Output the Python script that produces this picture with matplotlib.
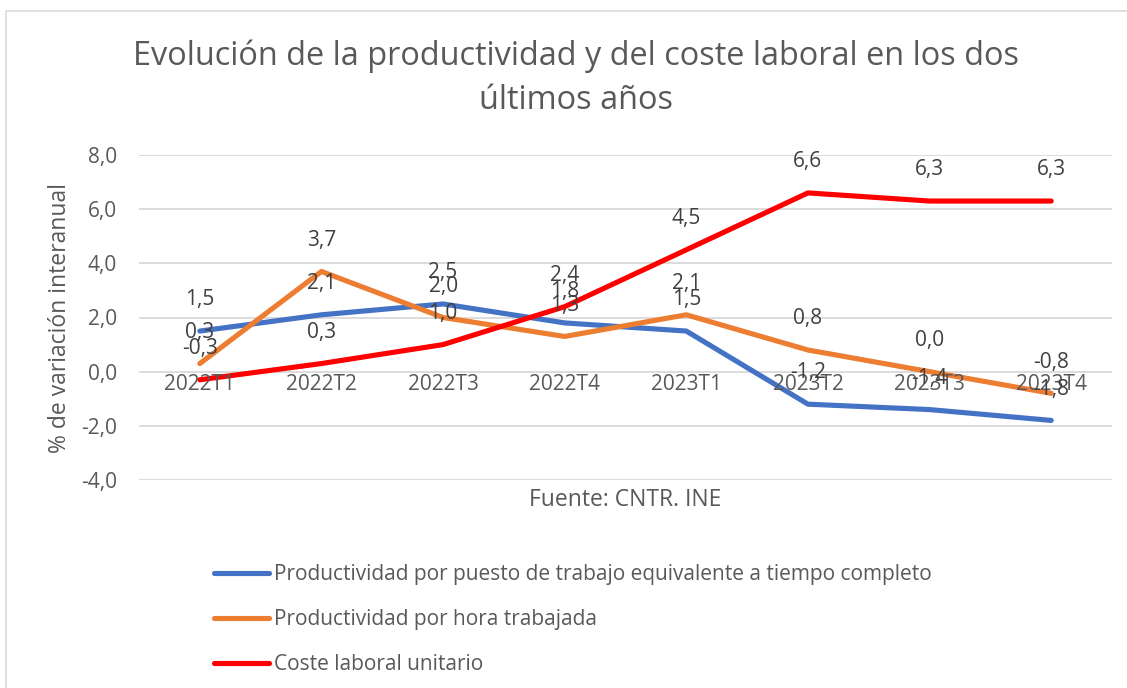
import matplotlib
matplotlib.use("Agg")
import matplotlib.pyplot as plt
from matplotlib.lines import Line2D
from matplotlib.patches import Rectangle

# ---------- Data ----------
categories = ["2022T1", "2022T2", "2022T3", "2022T4",
              "2023T1", "2023T2", "2023T3", "2023T4"]
prod_puesto = [1.5, 2.1, 2.5, 1.8, 1.5, -1.2, -1.4, -1.8]
prod_hora = [0.3, 3.7, 2.0, 1.3, 2.1, 0.8, 0.0, -0.8]
coste_laboral = [-0.3, 0.3, 1.0, 2.4, 4.5, 6.6, 6.3, 6.3]

series_names = ["Productividad por puesto de trabajo equivalente a tiempo completo",
                "Productividad por hora trabajada",
                "Coste laboral unitario"]
series_colors = ["#4472C4", "#ED7D31", "#FF0000"]
y_ticks = [-4, -2, 0, 2, 4, 6, 8]

# ---------- Style ----------
plt.rcParams["font.family"] = ["Open Sans", "DejaVu Sans"]
text_col = "#595959"
label_col = "#404040"
fs = 15

W, H = 1127, 688
fig = plt.figure(figsize=(W / 100, H / 100), dpi=100)

# chart border
fig.patches.append(Rectangle((6 / W, -0.1), 1.2, 1 - 11 / H + 0.1,
                             transform=fig.transFigure, fill=False,
                             edgecolor="#d9d9d9", linewidth=1.2))

ax = fig.add_axes([139 / W, 1 - 480 / H, (1112 - 139) / W, (480 - 155) / H])
x = list(range(len(categories)))

all_series = [prod_puesto, prod_hora, coste_laboral]
for vals, name, col in zip(all_series, series_names, series_colors):
    ax.plot(x, vals, color=col, linewidth=3.7, solid_capstyle="round",
            solid_joinstyle="round", label=name, zorder=3)

for vals in all_series:
    for xi, v in zip(x, vals):
        ax.annotate(f"{v:.1f}".replace(".", ","), (xi, v), xytext=(0, 22.5),
                    textcoords="offset points", ha="center", va="center",
                    fontsize=fs, color=label_col, zorder=5)

ax.set_xlim(-0.5, len(categories) - 0.5)
ax.set_ylim(-4, 8)
ax.set_yticks(y_ticks)
ax.set_yticklabels([f"{t:.1f}".replace(".", ",") for t in y_ticks],
                   fontsize=fs, color=text_col)
ax.tick_params(axis="y", length=0, pad=16)
ax.set_xticks([])
ax.grid(axis="y", color="#d9d9d9", linewidth=1.3)
ax.set_axisbelow(True)
for s in ax.spines.values():
    s.set_visible(False)

# category labels sit on the zero line
for xi, c in zip(x, categories):
    ax.annotate(c, (xi, 0), xytext=(0, -9.5), textcoords="offset points",
                ha="center", va="center", fontsize=fs, color=text_col, zorder=4)

fig.text(576 / W, 1 - 78 / H,
         "Evolución de la productividad y del coste laboral en los dos\núltimos años",
         ha="center", va="center", fontsize=23.4, color=text_col,
         linespacing=1.45)
fig.text(60 / W, 1 - 318 / H, "% de variación interanual", rotation=90,
         ha="center", va="center", fontsize=16.5, color=text_col)
fig.text(625 / W, 1 - 500 / H, "Fuente: CNTR. INE", ha="center", va="center",
         fontsize=16.5, color=text_col)

handles = [Line2D([0], [0], color=c, linewidth=3.7, solid_capstyle="round")
           for c in series_colors]
leg = fig.legend(handles, series_names, loc="upper left",
                 bbox_to_anchor=(214 / W, 1 - 564 / H), frameon=False,
                 fontsize=fs, handlelength=2.65, handletextpad=0.25,
                 labelspacing=1.15, borderpad=0, borderaxespad=0)
for t in leg.get_texts():
    t.set_color(text_col)

fig.savefig("out.png", dpi=100)
